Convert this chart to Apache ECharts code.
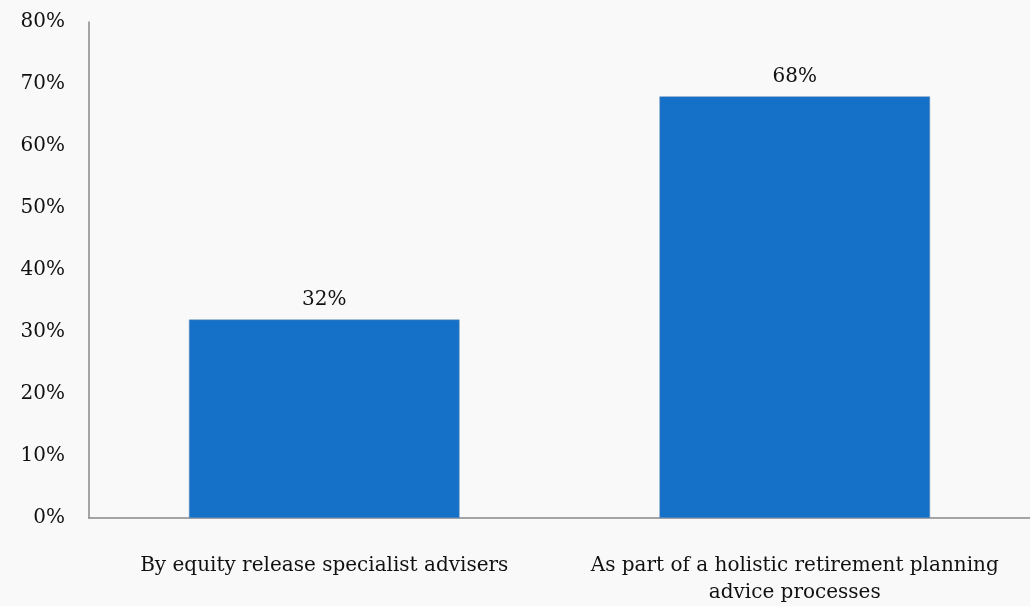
<!DOCTYPE html>
<html>
<head>
<meta charset="utf-8">
<script src="https://cdn.jsdelivr.net/npm/echarts@6/dist/echarts.min.js"></script>
<style>
  html, body { margin: 0; padding: 0; background: #f9f9f9; }
  #chart { width: 1030px; height: 606px; }
</style>
</head>
<body>
<div id="chart"></div>
<script>
// categories and values
var categories = ['By equity release specialist advisers', 'As part of a holistic retirement planning\nadvice processes'];
var shares = [32, 68];

var font = 'DejaVu Serif';
var chart = echarts.init(document.getElementById('chart'));

chart.setOption({
  backgroundColor: '#f9f9f9',
  animation: false,
  grid: { left: 89, top: 22, width: 946, height: 496, containLabel: false },
  xAxis: {
    type: 'category',
    data: categories,
    axisLine: { lineStyle: { color: '#888', width: 1.5 } },
    axisTick: { show: false },
    axisLabel: {
      color: '#111', fontFamily: font, fontSize: 20,
      margin: 34, lineHeight: 27, interval: 0
    }
  },
  yAxis: {
    type: 'value',
    min: 0, max: 80, interval: 10,
    axisLine: { show: true, lineStyle: { color: '#888', width: 1.5 } },
    axisTick: { show: false },
    splitLine: { show: false },
    axisLabel: {
      color: '#111', fontFamily: font, fontSize: 20, margin: 24,
      formatter: '{value}%'
    }
  },
  series: [{
    type: 'bar',
    data: shares,
    barWidth: '57.5%',
    itemStyle: { color: '#1570c8', borderColor: '#6b8fb8', borderWidth: 0.5 },
    label: {
      show: true, position: 'top', distance: 10,
      color: '#111', fontFamily: font, fontSize: 20,
      formatter: '{c}%'
    }
  }]
});
</script>
</body>
</html>
